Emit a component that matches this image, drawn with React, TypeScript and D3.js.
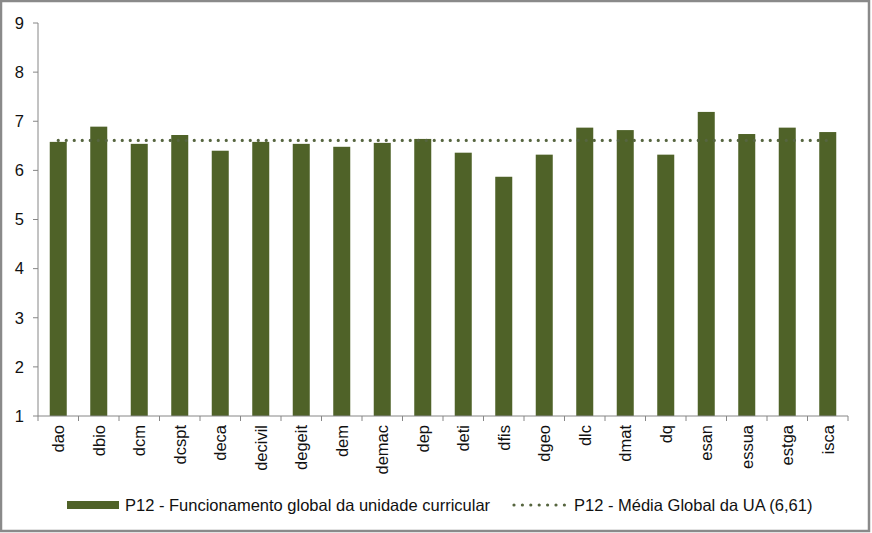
import React from "react";
import * as d3 from "d3";

const categories = ["dao","dbio","dcm","dcspt","deca","decivil","degeit","dem","demac","dep","deti","dfis","dgeo","dlc","dmat","dq","esan","essua","estga","isca"];
const values = [6.58,6.89,6.54,6.72,6.40,6.58,6.54,6.48,6.56,6.64,6.36,5.87,6.32,6.87,6.82,6.32,7.19,6.74,6.87,6.78];
const globalMean = 6.61;
const yTicks = [1,2,3,4,5,6,7,8,9];
const seriesLabel = "P12 - Funcionamento global da unidade curricular";
const meanLabel = "P12 - Média Global da UA (6,61)";

const W = 872, H = 533;
const left = 38, right = 848, top = 23, bottom = 416;
const barColor = "#4F6228";
const dotColor = "#56653F";
const axisColor = "#868686";
const font = "'Liberation Sans', Arial, sans-serif";
const fs = 16.5;

export default function App() {
  const x = d3.scaleBand<string>().domain(categories).range([left, right]).paddingInner(0).paddingOuter(0);
  const y = d3.scaleLinear().domain([1, 9]).range([bottom, top]);
  const bw = x.bandwidth();
  const barW = bw * 0.42;
  const first = (x(categories[0]) ?? 0) + bw / 2;
  const last = (x(categories[categories.length - 1]) ?? 0) + bw / 2;
  const boundaries = d3.range(categories.length + 1).map((i) => left + i * bw);

  return (
    <svg width={W} height={H} style={{ position: "absolute", left: 0, top: 0 }} fontFamily={font}>
      <rect x={0} y={0} width={W} height={H} fill="#fff" />
      <rect x={1} y={1} width={W - 4} height={H - 3} fill="none" stroke="#8a8a8a" strokeWidth={2.5} />
      {/* y axis */}
      <line x1={left} x2={left} y1={top} y2={bottom} stroke={axisColor} strokeWidth={1} />
      {yTicks.map((t) => (
        <g key={t}>
          <line x1={left - 5} x2={left} y1={y(t)} y2={y(t)} stroke={axisColor} />
          <text x={left - 14} y={y(t)} dy="0.35em" textAnchor="end" fontSize={fs} fill="#111">{t}</text>
        </g>
      ))}
      {/* bars */}
      {categories.map((c, i) => (
        <rect key={c} x={(x(c) ?? 0) + (bw - barW) / 2} y={y(values[i])} width={barW} height={y(1) - y(values[i])} fill={barColor} />
      ))}
      {/* x axis */}
      <line x1={left} x2={right} y1={bottom} y2={bottom} stroke={axisColor} />
      {boundaries.map((b, i) => (
        <line key={i} x1={b} x2={b} y1={bottom} y2={bottom + 5} stroke={axisColor} />
      ))}
      {categories.map((c) => (
        <text key={c} transform={`translate(${(x(c) ?? 0) + bw / 2},${bottom + 9}) rotate(-90)`} textAnchor="end" dy="0.35em" fontSize={fs} fill="#111">{c}</text>
      ))}
      {/* mean line */}
      <line x1={first} x2={last} y1={y(globalMean)} y2={y(globalMean)} stroke={dotColor} strokeWidth={3.2} strokeDasharray="0 8" strokeLinecap="round" />
      {/* legend */}
      <rect x={67} y={501} width={52} height={8} fill={barColor} />
      <text x={125} y={505} dy="0.35em" fontSize={fs} fill="#111">{seriesLabel}</text>
      <line x1={514} x2={566} y1={505} y2={505} stroke={dotColor} strokeWidth={3.2} strokeDasharray="0 8.4" strokeLinecap="round" />
      <text x={574} y={505} dy="0.35em" fontSize={fs} fill="#111">{meanLabel}</text>
    </svg>
  );
}
